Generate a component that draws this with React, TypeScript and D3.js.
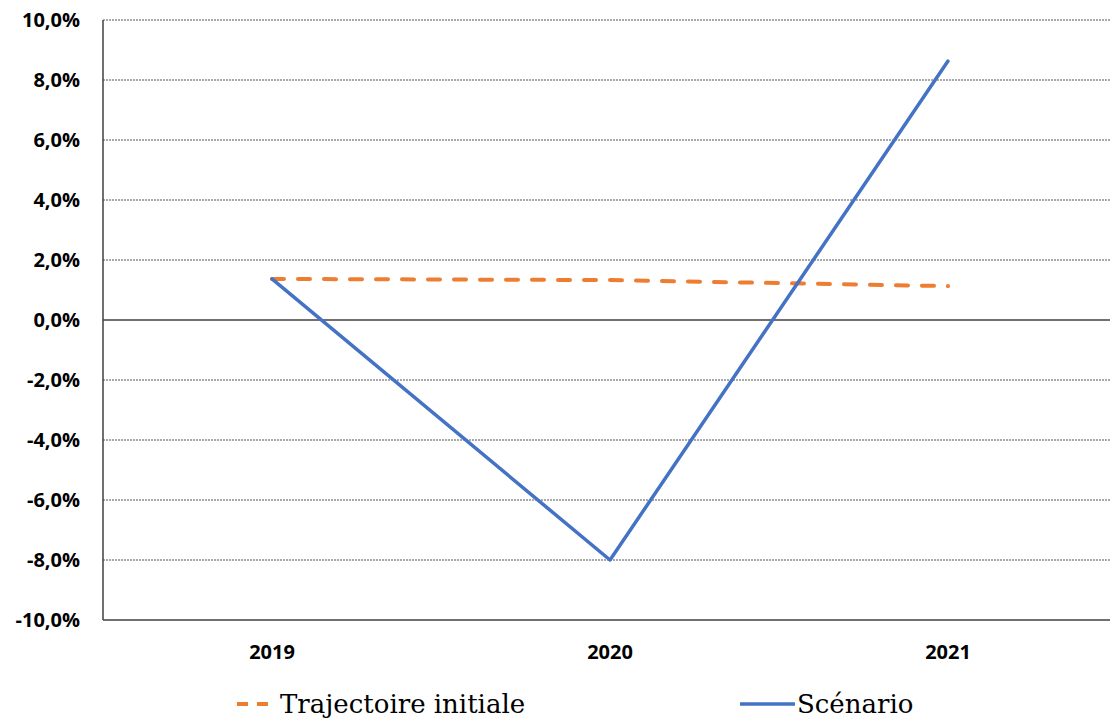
import React from "react";
import * as d3 from "d3";

const width = 1110;
const height = 723;
const margin = { top: 20, right: -7, bottom: 103, left: 103 };

const years = ["2019", "2020", "2021"];
const trajectoire = [1.37, 1.33, 1.13];
const scenario = [1.37, -8.0, 8.63];
const yTicks = [10, 8, 6, 4, 2, 0, -2, -4, -6, -8, -10];

const orange = "#ED7D31";
const blue = "#4472C4";
const labelFont = "'Open Sans', 'Noto Sans', sans-serif";
const legendFont = "'DejaVu Serif', serif";

const x = d3
  .scaleBand<string>()
  .domain(years)
  .range([margin.left, width - margin.right]);

const y = d3
  .scaleLinear()
  .domain([-10, 10])
  .range([height - margin.bottom, margin.top]);

const fmt = (v: number) => v.toFixed(1).replace(".", ",") + "%";

const line = d3
  .line<number>()
  .x((_, i) => (x(years[i]) as number) + x.bandwidth() / 2)
  .y((d) => y(d));

const App = () => {
  const left = margin.left;
  const right = width;
  return (
    <svg width={width} height={height} style={{ position: "absolute", left: 0, top: 0 }}>
      <rect width={width} height={height} fill="white" />
      {yTicks.map((t) => (
        <g key={t}>
          <line
            x1={left}
            x2={right}
            y1={y(t)}
            y2={y(t)}
            stroke={t === 0 || t === -10 ? "#404040" : "#555"}
            strokeWidth={t === 0 || t === -10 ? 1.5 : 1}
            strokeDasharray={t === 0 || t === -10 ? undefined : "2,1"}
          />
          <text
            x={80}
            y={y(t)}
            dy="0.36em"
            textAnchor="end"
            fontFamily={labelFont}
            fontWeight="bold"
            fontSize={20}
            fill="#000"
          >
            {fmt(t)}
          </text>
        </g>
      ))}
      <line x1={left} x2={left} y1={y(10)} y2={y(-10)} stroke="#404040" strokeWidth={1.5} />
      {years.map((yr) => (
        <text
          key={yr}
          x={(x(yr) as number) + x.bandwidth() / 2}
          y={652}
          dy="0.36em"
          textAnchor="middle"
          fontFamily={labelFont}
          fontWeight="bold"
          fontSize={20}
          fill="#000"
        >
          {yr}
        </text>
      ))}
      <path
        d={line(trajectoire) as string}
        fill="none"
        stroke={orange}
        strokeWidth={4}
        strokeDasharray="12,14"
        strokeLinecap="round"
      />
      <path
        d={line(scenario) as string}
        fill="none"
        stroke={blue}
        strokeWidth={3.5}
        strokeLinejoin="round"
        strokeLinecap="round"
      />
      <g>
        <line x1={237} x2={276} y1={704} y2={704} stroke={orange} strokeWidth={4} strokeDasharray="11,9" />
        <text x={280} y={704} dy="0.35em" fontFamily={legendFont} fontSize={26} fill="#000">
          Trajectoire initiale
        </text>
        <line x1={740} x2={795} y1={704} y2={704} stroke={blue} strokeWidth={3.5} />
        <text x={797} y={704} dy="0.35em" fontFamily={legendFont} fontSize={26} fill="#000">
          Scénario
        </text>
      </g>
    </svg>
  );
};

export default App;
